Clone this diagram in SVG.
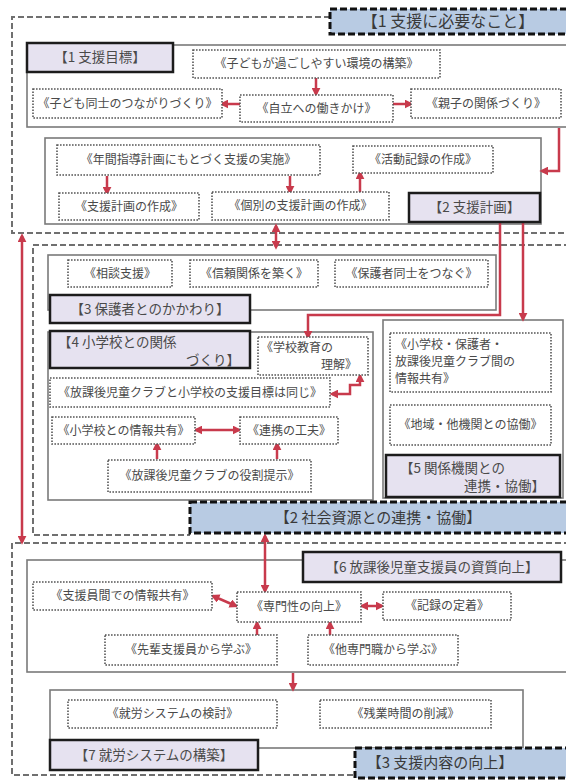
<svg xmlns="http://www.w3.org/2000/svg" width="566" height="780" viewBox="0 0 566 780">
<defs>
<style>
text{font-family:"Noto Sans CJK JP","Noto Sans",sans-serif;fill:#4a4a4a}
.outer{fill:none;stroke:#707070;stroke-width:2;stroke-dasharray:6 3}
.frame{fill:none;stroke:#7a7a7a;stroke-width:1.6}
.node rect{fill:#fff;stroke:#555;stroke-width:1.6;stroke-dasharray:1.6 1.4}
.node text{font-size:12px;text-anchor:middle}
.lab rect{fill:#e6e2f0;stroke:#1c1c1c;stroke-width:2.5}
.lab text{font-size:13.5px;text-anchor:middle}
.blue rect{fill:#b8cbe3;stroke:#111;stroke-width:3;stroke-dasharray:7 3}
.blue text{font-size:15px;text-anchor:middle;fill:#3a3a3a}
.conn path{fill:none;stroke:#c83a4c;stroke-width:2.5}
.l{text-anchor:start!important}
.r{text-anchor:end!important}
</style>
<marker id="ah" viewBox="0 0 10 10" refX="7" refY="5" markerWidth="3.6" markerHeight="3.6" orient="auto-start-reverse">
<path d="M0,0 L10,5 L0,10 z" fill="#c83a4c"/>
</marker>
</defs>
<rect width="566" height="780" fill="#fff"/>

<!-- outer dashed sections -->
<path class="outer" d="M330,17 H12 V233 H570"/>
<path class="outer" d="M570,245 H33 V535 H190"/>
<path class="outer" d="M570,543 H12 V775 H355"/>

<!-- solid frames -->
<rect class="frame" x="27" y="45" width="560" height="82"/>
<rect class="frame" x="45" y="138" width="496" height="86"/>
<rect class="frame" x="48" y="255" width="448" height="55"/>
<rect class="frame" x="48" y="332" width="325" height="168"/>
<rect class="frame" x="383" y="320" width="180" height="178"/>
<rect class="frame" x="27" y="560" width="560" height="112"/>
<rect class="frame" x="50" y="690" width="473" height="58"/>

<g id="connectors" class="conn">
<path d="M316,78 V94" marker-end="url(#ah)"/>
<path d="M240,104 H222" marker-end="url(#ah)"/>
<path d="M393,104 H411" marker-end="url(#ah)"/>
<path d="M559,128 V171 H542" marker-end="url(#ah)"/>
<path d="M107,176 V193" marker-end="url(#ah)"/>
<path d="M290,176 V192" marker-end="url(#ah)"/>
<path d="M360,192 V173" marker-end="url(#ah)"/>
<path d="M276,226 V247" marker-start="url(#ah)" marker-end="url(#ah)"/>
<path d="M22,236 V542" marker-start="url(#ah)" marker-end="url(#ah)"/>
<path d="M500,223 V315 H308 V337" marker-end="url(#ah)"/>
<path d="M523,223 V319" marker-end="url(#ah)"/>
<path d="M332,394 H350 V385 H360 V376" marker-start="url(#ah)" marker-end="url(#ah)"/>
<path d="M196,430 H239" marker-start="url(#ah)" marker-end="url(#ah)"/>
<path d="M157,459 V444" marker-end="url(#ah)"/>
<path d="M277,459 V444" marker-end="url(#ah)"/>
<path d="M265,536 V591" marker-start="url(#ah)" marker-end="url(#ah)"/>
<path d="M213,596 L236,606" marker-start="url(#ah)" marker-end="url(#ah)"/>
<path d="M362,606 H382" marker-start="url(#ah)" marker-end="url(#ah)"/>
<path d="M257,635 V623" marker-end="url(#ah)"/>
<path d="M330,635 V623" marker-end="url(#ah)"/>
<path d="M293,673 V689" marker-end="url(#ah)"/>
</g>

<!-- Section 1 -->
<g id="blue1" class="blue"><rect x="330" y="9" width="245" height="25"/><text x="448" y="27" style="font-size:16px">【1 支援に必要なこと】</text></g>
<g id="label-1" class="lab"><rect x="27" y="43" width="146" height="29"/><text x="100" y="62">【1 支援目標】</text></g>
<g id="n-kankyo" class="node"><rect x="193" y="50" width="247" height="28"/><text x="316.5" y="68">《子どもが過ごしやすい環境の構築》</text></g>
<g id="n-kodomo" class="node"><rect x="33" y="89" width="189" height="29"/><text x="127.5" y="108">《子ども同士のつながりづくり》</text></g>
<g id="n-jiritsu" class="node"><rect x="240" y="95" width="153" height="27"/><text x="316.5" y="113">《自立への働きかけ》</text></g>
<g id="n-oyako" class="node"><rect x="411" y="89" width="150" height="29"/><text x="486" y="108">《親子の関係づくり》</text></g>

<g id="n-nenkan" class="node"><rect x="57" y="145" width="263" height="30"/><text x="188.5" y="164">《年間指導計画にもとづく支援の実施》</text></g>
<g id="n-shienkeikaku" class="node"><rect x="59" y="193" width="140" height="27"/><text x="129" y="211">《支援計画の作成》</text></g>
<g id="n-kobetsu" class="node"><rect x="212" y="192" width="177" height="28"/><text x="300.5" y="210">《個別の支援計画の作成》</text></g>
<g id="n-katsudo" class="node"><rect x="353" y="146" width="140" height="27"/><text x="423" y="164">《活動記録の作成》</text></g>
<g id="label-2" class="lab"><rect x="409" y="193" width="131" height="29"/><text x="474.5" y="212">【2 支援計画】</text></g>

<!-- Section 2 -->
<g id="n-sodan" class="node"><rect x="68" y="260" width="104" height="27"/><text x="120" y="278">《相談支援》</text></g>
<g id="n-shinrai" class="node"><rect x="190" y="260" width="128" height="27"/><text x="254" y="278">《信頼関係を築く》</text></g>
<g id="n-hogosha" class="node"><rect x="335" y="260" width="153" height="27"/><text x="411.5" y="278">《保護者同士をつなぐ》</text></g>
<g id="label-3" class="lab"><rect x="50" y="295" width="200" height="28"/><text x="150" y="314">【3 保護者とのかかわり】</text></g>

<g id="label-4" class="lab"><rect x="50" y="331" width="200" height="37"/><text class="l" x="58" y="347">【4 小学校との関係</text><text class="r" x="240" y="365">づくり】</text></g>
<g id="n-gakko" class="node"><rect x="258" y="337" width="110" height="38"/><text class="l" x="261" y="352">《学校教育の</text><text class="r" x="357" y="369">理解》</text></g>
<g id="n-onaji" class="node"><rect x="50" y="378" width="280" height="29"/><text x="190" y="397">《放課後児童クラブと小学校の支援目標は同じ》</text></g>
<g id="n-joho" class="node"><rect x="52" y="417" width="143" height="27"/><text x="123.5" y="435">《小学校との情報共有》</text></g>
<g id="n-renkei" class="node"><rect x="240" y="417" width="98" height="27"/><text x="289" y="435">《連携の工夫》</text></g>
<g id="n-yakuwari" class="node"><rect x="108" y="460" width="203" height="32"/><text x="209.5" y="480">《放課後児童クラブの役割提示》</text></g>

<g id="n-sanja" class="node"><rect x="390" y="333" width="161" height="59"/><text class="l" x="395" y="349">《小学校・保護者・</text><text class="l" x="395" y="366">放課後児童クラブ間の</text><text class="l" x="395" y="383">情報共有》</text></g>
<g id="n-chiiki" class="node"><rect x="390" y="405" width="161" height="40"/><text x="470.5" y="429">《地域・他機関との協働》</text></g>
<g id="label-5" class="lab"><rect x="386" y="455" width="174" height="42"/><text class="l" x="400" y="473">【5 関係機関との</text><text class="r" x="545" y="491">連携・協働】</text></g>

<g id="blue2" class="blue"><rect x="190" y="502" width="385" height="31"/><text x="378" y="523">【2 社会資源との連携・協働】</text></g>

<!-- Section 3 -->
<g id="label-6" class="lab"><rect x="303" y="552" width="258" height="30"/><text x="432" y="572">【6 放課後児童支援員の資質向上】</text></g>
<g id="n-shienin" class="node"><rect x="33" y="582" width="179" height="28"/><text x="122.5" y="600">《支援員間での情報共有》</text></g>
<g id="n-senmon" class="node"><rect x="237" y="592" width="124" height="30"/><text x="299" y="611">《専門性の向上》</text></g>
<g id="n-kiroku" class="node"><rect x="383" y="592" width="128" height="28"/><text x="447" y="610">《記録の定着》</text></g>
<g id="n-senpai" class="node"><rect x="105" y="635" width="172" height="30"/><text x="191" y="654">《先輩支援員から学ぶ》</text></g>
<g id="n-tasenmon" class="node"><rect x="308" y="635" width="150" height="30"/><text x="383" y="654">《他専門職から学ぶ》</text></g>

<g id="n-shuro" class="node"><rect x="68" y="700" width="209" height="28"/><text x="172.5" y="718">《就労システムの検討》</text></g>
<g id="n-zangyo" class="node"><rect x="320" y="700" width="171" height="28"/><text x="405.5" y="718">《残業時間の削減》</text></g>
<g id="label-7" class="lab"><rect x="50" y="740" width="208" height="30"/><text x="154" y="760">【7 就労システムの構築】</text></g>
<g id="blue3" class="blue"><rect x="355" y="748" width="220" height="30"/><text x="440" y="768">【3 支援内容の向上】</text></g>
</svg>
